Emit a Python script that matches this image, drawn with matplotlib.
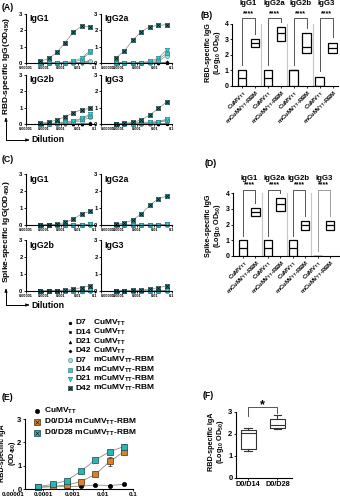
import numpy as np
import matplotlib.pyplot as plt
from matplotlib.ticker import NullLocator

plt.rcParams['font.family'] = ['Liberation Sans', 'DejaVu Sans']
plt.rcParams['font.weight'] = 'bold'
plt.rcParams['mathtext.fontset'] = 'custom'
plt.rcParams['mathtext.rm'] = 'Liberation Sans:bold'
plt.rcParams['mathtext.it'] = 'Liberation Sans:bold'
plt.rcParams['mathtext.bf'] = 'Liberation Sans:bold'
plt.rcParams['axes.linewidth'] = 0.8

# serum dilutions (1:20, 3-fold)
dilution = [0.000069, 0.00021, 0.00062, 0.00185, 0.0056, 0.0167, 0.05]
isotypes = ['IgG1', 'IgG2a', 'IgG2b', 'IgG3']
days = ['D7', 'D14', 'D21', 'D42', 'D7', 'D14', 'D21', 'D42']
vaccines = ['CuMV$_{TT}$'] * 4 + ['mCuMV$_{TT}$-RBM'] * 4

# RBD ELISA, OD450; rows: D7/D14/D21/D42 CuMVTT, then D7/D14/D21/D42 mCuMVTT-RBM
rbd_igg1 = [[0, 0, 0, 0, 0, 0.02, 0.05],
            [0, 0, 0, 0, 0, 0.02, 0.05],
            [0, 0, 0, 0, 0.01, 0.03, 0.08],
            [0, 0, 0, 0, 0.01, 0.03, 0.1],
            [0, 0, 0, 0, 0.02, 0.05, 0.15],
            [0, 0, 0, 0, 0.05, 0.2, 0.65],
            [0, 0, 0, 0.02, 0.1, 0.3, 0.75],
            [0.1, 0.28, 0.65, 1.25, 1.9, 2.25, 2.2]]
rbd_igg2a = [[0, 0, 0, 0, 0, 0.01, 0.03],
             [0, 0, 0, 0, 0, 0.01, 0.03],
             [0, 0, 0, 0, 0.01, 0.02, 0.05],
             [0, 0, 0, 0, 0.01, 0.02, 0.05],
             [0, 0, 0, 0, 0.02, 0.1, 0.45],
             [0, 0, 0, 0.02, 0.05, 0.2, 0.6],
             [0, 0, 0, 0.03, 0.1, 0.3, 0.8],
             [0.3, 0.75, 1.4, 1.92, 2.22, 2.3, 2.35]]
rbd_igg2b = [[0, 0, 0, 0, 0, 0.01, 0.03],
             [0, 0, 0, 0, 0, 0.01, 0.03],
             [0, 0, 0, 0, 0.01, 0.02, 0.05],
             [0, 0, 0, 0, 0.01, 0.02, 0.05],
             [0, 0, 0, 0.05, 0.1, 0.2, 0.4],
             [0, 0, 0.05, 0.1, 0.15, 0.3, 0.5],
             [0, 0.03, 0.08, 0.12, 0.2, 0.35, 0.6],
             [0.05, 0.12, 0.25, 0.45, 0.68, 0.88, 0.95]]
rbd_igg3 = [[0, 0, 0, 0, 0, 0.01, 0.03],
            [0, 0, 0, 0, 0, 0.01, 0.03],
            [0, 0, 0, 0, 0.01, 0.02, 0.05],
            [0, 0, 0, 0, 0.01, 0.02, 0.05],
            [0, 0, 0, 0.03, 0.05, 0.1, 0.2],
            [0, 0, 0.03, 0.05, 0.08, 0.12, 0.25],
            [0, 0.02, 0.05, 0.1, 0.12, 0.15, 0.3],
            [0.02, 0.05, 0.1, 0.25, 0.55, 0.95, 1.35]]

# Spike ELISA, OD450
zero = [0, 0, 0, 0, 0, 0, 0]
low = [0, 0, 0, 0, 0, 0.01, 0.03]
spike_igg1 = [zero, zero, zero, low, zero, low, low,
              [0, 0.02, 0.05, 0.15, 0.35, 0.65, 0.8]]
spike_igg2a = [zero, zero, zero, low, zero, low, low,
               [0.03, 0.12, 0.3, 0.65, 1.15, 1.55, 1.7]]
spike_igg2b = [zero, zero, zero, low, zero, low, low,
               [0, 0, 0.02, 0.05, 0.1, 0.2, 0.3]]
spike_igg3 = [zero, zero, zero, low, zero, low, low,
              [0, 0.02, 0.03, 0.06, 0.1, 0.2, 0.3]]

# Log10 OD50 endpoint titres: min / median / max per group
# order: IgG1 CuMV, IgG1 RBM, IgG2a CuMV, IgG2a RBM, IgG2b ..., IgG3 ...
box_groups = ['CuMV$_{TT}$', 'mCuMV$_{TT}$-RBM'] * 4
rbd_min = [0, 2.54, 0, 2.92, 0, 2.1, 0, 2.15]
rbd_med = [0.5, 2.8, 0.5, 3.4, 1.0, 2.5, 0, 2.47]
rbd_max = [1, 3.01, 1, 3.78, 1, 3.4, 0.6, 2.8]
spike_min = [0, 2.53, 0, 2.86, 0, 1.68, 0, 1.68]
spike_med = [0.5, 2.8, 0.5, 3.33, 0.5, 1.96, 0, 1.96]
spike_max = [1, 3.07, 1, 3.7, 1, 2.23, 0, 2.23]

# IgA (E)
iga_labels = ['CuMV$_{TT}$', 'D0/D14 mCuMV$_{TT}$-RBM', 'D0/D28 mCuMV$_{TT}$-RBM']
iga_cumv = [0.08, 0.1, 0.1, 0.12, 0.17, 0.15, 0.2]
iga_d14 = [0.07, 0.11, 0.17, 0.32, 0.63, 1.18, 1.6]
iga_d28 = [0.1, 0.2, 0.36, 0.77, 1.25, 1.6, 1.82]
iga_cumv_err = [0.01, 0.01, 0.01, 0.02, 0.02, 0.02, 0.03]
iga_d14_err = [0.02, 0.02, 0.03, 0.05, 0.08, 0.2, 0.1]
iga_d28_err = [0.02, 0.02, 0.03, 0.08, 0.08, 0.08, 0.1]

# IgA (F) log10 OD50 box stats
f_groups = ['D0/D14', 'D0/D28']
f_whislo = [1.24, 2.22]
f_q1 = [1.30, 2.29]
f_med = [2.05, 2.43]
f_q3 = [2.17, 2.70]
f_whishi = [2.29, 2.85]

styles = [
    dict(marker='o', mfc='k', mec='k', ms=2.0),
    dict(marker='s', mfc='k', mec='k', ms=1.8),
    dict(marker='^', mfc='k', mec='k', ms=2.0),
    dict(marker='D', mfc='k', mec='k', ms=1.6),
    dict(marker='o', mfc='#a9d6d6', mec='#3f8f8f', ms=3.0),
    dict(marker='s', mfc='#45c4c4', mec='#1f6b6b', ms=3.0),
    dict(marker='v', mfc='#19dbe6', mec='#2a6f75', ms=3.2),
    dict(marker='s', mfc='#1e7c7c', mec='#0d3434', ms=3.2),
]

W, H = 340, 500
fig = plt.figure(figsize=(3.4, 5.0), dpi=100)


def px_axes(l, t, r, b):
    ax = fig.add_axes([l / W, 1 - b / H, (r - l) / W, (b - t) / H])
    ax.patch.set_alpha(0)
    ax.spines[['top', 'right']].set_visible(False)
    ax.tick_params(length=1.5, width=0.6, pad=1)
    return ax


def curve_panel(l, t, r, b, title, rows, first_left=False):
    ax = px_axes(l, t, r, b)
    ax.set_xscale('log')
    ax.set_xlim(1e-5, 0.1)
    ax.set_ylim(0, 3)
    for vals, st in zip(rows, styles):
        ax.plot(dilution, vals, color='#8a8a8a', lw=0.5, mew=0.4, clip_on=False, **st)
    ax.plot(dilution, rows[-1], ls='none', marker='x', ms=2.2, mec='k', mew=0.4, clip_on=False)
    ax.set_xticks([1e-5, 1e-4, 1e-3, 1e-2, 1e-1])
    ax.set_xticklabels(['0.00001', '0.0001', '0.001', '0.01', '0.1'], fontsize=2.8)
    if first_left:
        ax.get_xticklabels()[0].set_ha('left')
    ax.xaxis.set_minor_locator(NullLocator())
    ax.set_yticks([0, 1, 2, 3])
    ax.tick_params(axis='y', labelsize=4.2)
    ax.text(0.05, 0.99, title, transform=ax.transAxes, fontsize=6.3, va='top')
    return ax


def box_panel(l, t, r, b, xlo, xhi, vmin, vmed, vmax, y_br, y_star, y_title, leg_gap):
    ax = px_axes(l, t, r, b)
    ax.set_xlim(xlo, xhi)
    ax.set_ylim(0, 4)
    pos = np.arange(len(vmin))
    ax.bar(pos, np.array(vmax) - np.array(vmin), bottom=vmin, width=0.68,
           facecolor='white', edgecolor='k', lw=0.9, zorder=3)
    ax.hlines(vmed, pos - 0.34, pos + 0.34, color='k', lw=0.9, zorder=4)
    ax.vlines([1.5, 3.5, 5.5], 0, 4.05, color='#c6c6c6', lw=0.8, zorder=1)
    for g, iso in enumerate(isotypes):
        a, c = 2 * g, 2 * g + 1
        col = '#9a9a9a' if vmax[a] == 0 else '#555555'
        ax.plot([a, a, c, c], [vmax[a] + leg_gap, y_br, y_br, vmax[c] + leg_gap],
                color=col, lw=0.7, clip_on=False)
        ax.text(a + 0.5, y_star, '****', ha='center', va='center', fontsize=5, clip_on=False)
        ax.text(a + 0.5, y_title, iso, ha='center', va='center', fontsize=5.6, clip_on=False)
    ax.set_xticks(pos)
    ax.set_xticklabels(box_groups, rotation=45, ha='right', rotation_mode='anchor', fontsize=4.2)
    ax.tick_params(axis='x', pad=0.5)
    ax.set_yticks([0, 1, 2, 3, 4])
    ax.tick_params(axis='y', labelsize=5)
    return ax


# (A) RBD-specific IgG titration curves
curve_panel(26, 14, 95, 63, 'IgG1', rbd_igg1)
curve_panel(101, 14, 172, 63, 'IgG2a', rbd_igg2a, first_left=True)
curve_panel(26, 75, 95, 124, 'IgG2b', rbd_igg2b)
curve_panel(101, 75, 172, 124, 'IgG3', rbd_igg3, first_left=True)

# (C) Spike-specific IgG titration curves
curve_panel(26, 174, 95, 225, 'IgG1', spike_igg1)
curve_panel(101, 174, 172, 225, 'IgG2a', spike_igg2a, first_left=True)
curve_panel(26, 240, 95, 291, 'IgG2b', spike_igg2b)
curve_panel(101, 240, 172, 291, 'IgG3', spike_igg3, first_left=True)

# (B) and (D) endpoint titres
axb = box_panel(232, 24, 338, 86, -0.77, 7.4, rbd_min, rbd_med, rbd_max, 4.39, 4.65, 5.3, 0.35)
axd = box_panel(233, 193, 340, 256, -0.81, 7.8, spike_min, spike_med, spike_max, 4.21, 4.5, 4.95, 0.3)

# (E) IgA titration; x axis starts a little left of the y axis
e_lo, e_hi = 1e-5, 0.1
e_left, e_spine, e_right = 13, 25, 133
axe = px_axes(e_left, 419, e_right, 489)
axe.set_xscale('log')
axe.set_xlim(e_lo, e_hi)
axe.set_ylim(0, 3)
spine_x = 10 ** (np.log10(e_lo) + np.log10(e_hi / e_lo) * (e_spine - e_left) / (e_right - e_left))
axe.spines['left'].set_position(('data', spine_x))
axe.spines['bottom'].set_bounds(spine_x, e_hi)
e_styles = [dict(marker='o', mfc='k', mec='k', ms=3.0),
            dict(marker='s', mfc='#d9822b', mec='#4a2e12', ms=4.2),
            dict(marker='s', mfc='#2bb5b5', mec='#12484a', ms=4.2)]
for vals, err, st in zip([iga_cumv, iga_d14, iga_d28], [iga_cumv_err, iga_d14_err, iga_d28_err], e_styles):
    axe.errorbar(dilution, vals, yerr=err, color='#8a8a8a', lw=0.6, ecolor='#333333',
                 elinewidth=0.6, capsize=1.2, capthick=0.6, mew=0.5, clip_on=False, **st)
for vals in [iga_d14, iga_d28]:
    axe.plot(dilution, vals, ls='none', marker='x', ms=3, mec='#222222', mew=0.5, clip_on=False)
axe.set_xticks([1e-5, 1e-4, 1e-3, 1e-2, 1e-1])
axe.set_xticklabels(['0.00001', '0.0001', '0.001', '0.01', '0.1'], fontsize=4.5)
axe.xaxis.set_minor_locator(NullLocator())
axe.set_yticks([0, 1, 2, 3])
axe.tick_params(axis='y', labelsize=5.5)

# (F) IgA titres
axf = px_axes(236, 412, 292, 478)
stats = [dict(whislo=f_whislo[i], q1=f_q1[i], med=f_med[i], q3=f_q3[i], whishi=f_whishi[i])
         for i in range(len(f_groups))]
axf.bxp(stats, positions=[0, 1], widths=0.52, showfliers=False,
        boxprops=dict(color='#333333', lw=0.8), medianprops=dict(color='#333333', lw=0.8),
        whiskerprops=dict(color='#333333', lw=0.8), capprops=dict(color='#333333', lw=0.8),
        capwidths=0.26)
axf.set_xlim(-0.42, 1.5)
axf.set_ylim(0, 3)
axf.set_xticks([0, 1])
axf.set_xticklabels(f_groups, fontsize=5.3)
axf.set_yticks([0, 1, 2, 3])
axf.tick_params(axis='y', labelsize=5.5)
axf.plot([0, 0, 1, 1], [2.8, 3.22, 3.22, 2.95], color='#555555', lw=0.7, clip_on=False)
axf.text(0.5, 3.32, '*', ha='center', va='center', fontsize=9, clip_on=False)

# overlay in pixel units for labels, arrows and the shared legend
top = fig.add_axes([0, 0, 1, 1])
top.set_xlim(0, W)
top.set_ylim(H, 0)
top.axis('off')

for lab, x, y in [('(A)', 2, 7), ('(B)', 201, 16), ('(C)', 2, 160), ('(D)', 205, 163),
                  ('(E)', 2, 397), ('(F)', 203, 396)]:
    top.text(x, y, lab, fontsize=6.3, va='center')

top.text(7, 66, 'RBD-specific IgG(OD$_{450}$)', rotation=90, ha='center', va='center', fontsize=6)
top.text(7, 232, 'Spike-specific IgG(OD$_{450}$)', rotation=90, ha='center', va='center', fontsize=6)
top.text(214, 53, 'RBD-specific IgG\n(Log$_{10}$ OD$_{50}$)', rotation=90, ha='center', va='center',
         fontsize=5.2, linespacing=1.0)
top.text(214, 226, 'Spike-specific IgG\n(Log$_{10}$ OD$_{50}$)', rotation=90, ha='center', va='center',
         fontsize=5.2, linespacing=1.0)
top.text(8.5, 453, 'RBD-specific IgA\n(OD$_{450}$)', rotation=90, ha='center', va='center',
         fontsize=5.1, linespacing=1.0)
top.text(217, 442, 'RBD-specific IgA\n(Log$_{10}$ OD$_{50}$)', rotation=90, ha='center', va='center',
         fontsize=5.2, linespacing=1.0)

for yb, yt in [(140, 118), (305, 289)]:
    top.plot([6, 6], [yb, yt + 3], color='k', lw=0.7)
    top.annotate('', xy=(6, yt), xytext=(6, yt + 4),
                 arrowprops=dict(arrowstyle='-|>', color='k', lw=0.7, mutation_scale=4))
    top.plot([6, 26], [yb, yb], color='k', lw=0.7)
    top.annotate('', xy=(29, yb), xytext=(25, yb),
                 arrowprops=dict(arrowstyle='-|>', color='k', lw=0.7, mutation_scale=4))
    top.text(31, yb, 'Dilution', fontsize=6.3, va='center')

for i, (d, v, st) in enumerate(zip(days, vaccines, styles)):
    y = 323 + 9.3 * i
    top.plot(70, y, mew=0.4, **st)
    if i == 7:
        top.plot(70, y, marker='x', ms=2.2, mec='k', mew=0.4)
    top.text(75, y, d, fontsize=6.0, va='center')
    top.text(93, y, v, fontsize=6.0, va='center')

for i, (lab, st) in enumerate(zip(iga_labels, e_styles)):
    y = 411 + 11 * i
    top.plot(37, y, mew=0.5, **st)
    if i > 0:
        top.plot(37, y, marker='x', ms=3, mec='#222222', mew=0.5)
    top.text(44, y, lab, fontsize=6, va='center')

fig.savefig('out.png', dpi=100)
